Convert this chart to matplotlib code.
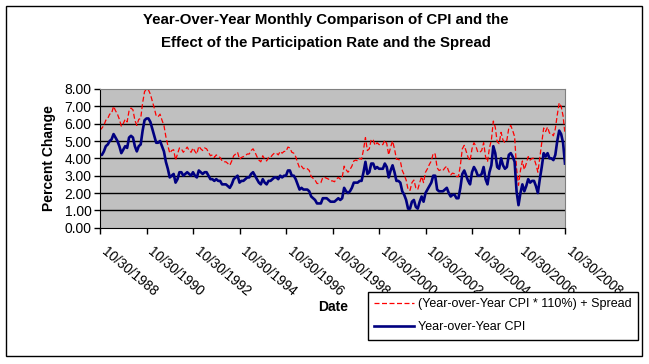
import numpy as np
import matplotlib.pyplot as plt
import matplotlib.transforms as mtransforms
from matplotlib.patches import Rectangle

plt.rcParams['font.family'] = ['Liberation Sans', 'DejaVu Sans']

# monthly year-over-year CPI, Oct 1988 .. Oct 2008
cpi = [4.2, 4.2, 4.4,
       4.7, 4.8, 5.0, 5.1, 5.4, 5.2, 5.0, 4.7, 4.3, 4.5, 4.7, 4.6,
       5.2, 5.3, 5.2, 4.7, 4.4, 4.7, 4.8, 5.6, 6.2, 6.3, 6.3, 6.1,
       5.7, 5.3, 4.9, 4.9, 5.0, 4.7, 4.4, 3.8, 3.4, 2.9, 3.0, 3.1,
       2.6, 2.8, 3.2, 3.2, 3.0, 3.1, 3.2, 3.1, 3.0, 3.2, 3.0, 2.9,
       3.3, 3.2, 3.1, 3.2, 3.2, 3.0, 2.8, 2.8, 2.7, 2.8, 2.7, 2.7,
       2.5, 2.5, 2.5, 2.4, 2.3, 2.5, 2.8, 2.9, 3.0, 2.6, 2.7, 2.7,
       2.8, 2.9, 2.9, 3.1, 3.2, 3.0, 2.8, 2.6, 2.5, 2.8, 2.6, 2.5,
       2.7, 2.7, 2.8, 2.9, 2.9, 2.8, 3.0, 2.9, 3.0, 3.0, 3.3, 3.3,
       3.0, 3.0, 2.8, 2.5, 2.2, 2.3, 2.2, 2.2, 2.2, 2.1, 1.8, 1.7,
       1.6, 1.4, 1.4, 1.4, 1.7, 1.7, 1.7, 1.6, 1.5, 1.5, 1.5, 1.6,
       1.7, 1.6, 1.7, 2.3, 2.1, 2.0, 2.1, 2.3, 2.6, 2.6, 2.6, 2.7,
       2.7, 3.2, 3.8, 3.1, 3.2, 3.7, 3.7, 3.4, 3.5, 3.4, 3.4, 3.4,
       3.7, 3.5, 2.9, 3.3, 3.6, 3.2, 2.7, 2.7, 2.6, 2.1, 1.9, 1.6,
       1.1, 1.1, 1.5, 1.6, 1.2, 1.1, 1.5, 1.8, 1.5, 2.0, 2.2, 2.4,
       2.6, 3.0, 3.0, 2.2, 2.1, 2.1, 2.1, 2.2, 2.3, 2.0, 1.8, 1.9,
       1.9, 1.7, 1.7, 2.3, 3.1, 3.3, 3.0, 2.7, 2.5, 3.2, 3.5, 3.3,
       3.0, 3.0, 3.1, 3.5, 2.8, 2.5, 3.2, 3.6, 4.7, 4.3, 3.5, 3.4,
       4.0, 3.6, 3.4, 3.5, 4.2, 4.3, 4.1, 3.8, 2.1, 1.3, 2.0, 2.5,
       2.1, 2.4, 2.8, 2.6, 2.7, 2.7, 2.4, 2.0, 2.8, 3.5, 4.3, 4.1,
       4.3, 4.0, 4.0, 3.9, 4.2, 5.0, 5.6, 5.4, 4.9, 3.7]

# (CPI * 110%) + spread
adjusted = [5.62, 5.75, 5.90,
            6.20, 6.30, 6.55, 6.60, 7.00, 6.75, 6.55, 6.25, 5.85, 6.00, 6.25, 6.10,
            6.75, 6.90, 6.80, 6.20, 5.90, 6.25, 6.30, 7.20, 7.85, 8.00, 7.95, 7.70,
            7.30, 6.90, 6.45, 6.40, 6.55, 6.20, 5.90, 5.25, 4.75, 4.30, 4.45, 4.50,
            3.90, 4.25, 4.60, 4.55, 4.35, 4.50, 4.65, 4.45, 4.35, 4.60, 4.40, 4.25,
            4.70, 4.55, 4.45, 4.60, 4.55, 4.35, 4.15, 4.20, 4.05, 4.20, 4.10, 4.05,
            3.85, 3.80, 3.80, 3.70, 3.60, 3.85, 4.15, 4.25, 4.35, 3.95, 4.05, 4.10,
            4.15, 4.25, 4.25, 4.45, 4.55, 4.35, 4.10, 3.90, 3.80, 4.15, 3.95, 3.85,
            4.05, 4.05, 4.20, 4.30, 4.30, 4.20, 4.40, 4.30, 4.40, 4.40, 4.65, 4.60,
            4.35, 4.30, 4.10, 3.75, 3.45, 3.55, 3.40, 3.45, 3.40, 3.30, 2.95, 2.85,
            2.75, 2.55, 2.55, 2.60, 2.90, 2.90, 2.85, 2.80, 2.70, 2.70, 2.65, 2.80,
            2.90, 2.80, 2.90, 3.55, 3.35, 3.20, 3.35, 3.55, 3.85, 3.90, 3.85, 4.00,
            3.95, 4.50, 5.20, 4.45, 4.55, 5.10, 5.05, 4.75, 4.90, 4.80, 4.75, 4.80,
            5.05, 4.85, 4.20, 4.65, 5.00, 4.55, 3.95, 3.95, 3.85, 3.30, 3.05, 2.75,
            2.20, 2.15, 2.60, 2.75, 2.30, 2.20, 2.60, 2.95, 2.60, 3.20, 3.40, 3.65,
            3.85, 4.30, 4.25, 3.45, 3.30, 3.35, 3.30, 3.45, 3.55, 3.25, 3.05, 3.15,
            3.10, 2.95, 2.95, 3.60, 4.55, 4.75, 4.40, 4.05, 3.85, 4.55, 4.90, 4.70,
            4.35, 4.35, 4.45, 4.90, 4.10, 3.80, 4.60, 5.05, 6.15, 5.80, 4.95, 4.85,
            5.50, 5.05, 4.90, 5.05, 5.75, 5.90, 5.60, 5.25, 3.40, 2.45, 3.30, 3.85,
            3.35, 3.70, 4.10, 3.90, 4.00, 4.00, 3.65, 3.20, 4.05, 4.90, 5.75, 5.55,
            5.80, 5.45, 5.45, 5.30, 5.70, 6.50, 7.20, 7.00, 6.45, 5.40]

date_labels = ['10/30/1988', '10/30/1990', '10/30/1992', '10/30/1994',
               '10/30/1996', '10/30/1998', '10/30/2000', '10/30/2002',
               '10/30/2004', '10/30/2006', '10/30/2008']

months = np.arange(len(cpi))
tick_pos = np.arange(0, 241, 24)

fig = plt.figure(figsize=(6.49, 3.64), dpi=100)
fig.patches.append(Rectangle((6 / 649, 1 - 356 / 364), 636 / 649, 350 / 364,
                             transform=fig.transFigure, fill=False,
                             edgecolor='black', linewidth=1))

ax = fig.add_axes([100 / 649, 1 - 227.7 / 364, 465 / 649, 138.7 / 364])
ax.set_facecolor('#C0C0C0')

ax.plot(months, adjusted, color='#FF0000', linewidth=0.9, dashes=(4, 2),
        label='(Year-over-Year CPI * 110%) + Spread')
ax.plot(months, cpi, color='#000080', linewidth=1.9, label='Year-over-Year CPI')

ax.set_xlim(0, 240)
ax.set_ylim(0, 8)
ax.set_yticks(np.arange(0, 9, 1))
ax.set_yticklabels(['%.2f' % v for v in np.arange(0, 9, 1)], fontsize=10)
ax.set_xticks(tick_pos)
ax.set_xticklabels([])
ax.tick_params(axis='both', direction='out', length=4, width=1, color='black')
ax.tick_params(axis='y', pad=2)

# rotated date labels, placed like Excel does them
shift = mtransforms.ScaledTranslation(8 / 100, -17 / 100, fig.dpi_scale_trans)
for pos, lbl in zip(tick_pos, date_labels):
    ax.text(pos, 0, lbl, transform=ax.get_xaxis_transform() + shift,
            rotation=-40, ha='left', va='top', rotation_mode='anchor',
            fontsize=9.8, clip_on=False)

for v in range(1, 8):
    ax.axhline(v, color='black', linewidth=1, zorder=1)

for s in ['top', 'right']:
    ax.spines[s].set_color('#808080')
for s in ['left', 'bottom']:
    ax.spines[s].set_color('black')

ax.set_ylabel('Percent Change', fontsize=10, fontweight='bold', labelpad=6)

fig.text(326 / 649, 1 - 20 / 364, 'Year-Over-Year Monthly Comparison of CPI and the',
         ha='center', va='center', fontsize=10.8, fontweight='bold')
fig.text(326 / 649, 1 - 43 / 364, 'Effect of the Participation Rate and the Spread',
         ha='center', va='center', fontsize=10.8, fontweight='bold')
fig.text(333 / 649, 1 - 307 / 364, 'Date', ha='center', va='center',
         fontsize=10, fontweight='bold')

leg = ax.legend(loc='upper left', bbox_to_anchor=(368 / 649, 1 - 292 / 364),
                bbox_transform=fig.transFigure, fontsize=9, frameon=True,
                fancybox=False, edgecolor='black', framealpha=1,
                handlelength=3.2, handletextpad=0.3, borderpad=0.5,
                labelspacing=0.9, borderaxespad=0)
leg.get_frame().set_linewidth(1)

plt.savefig('out.png', dpi=100)
